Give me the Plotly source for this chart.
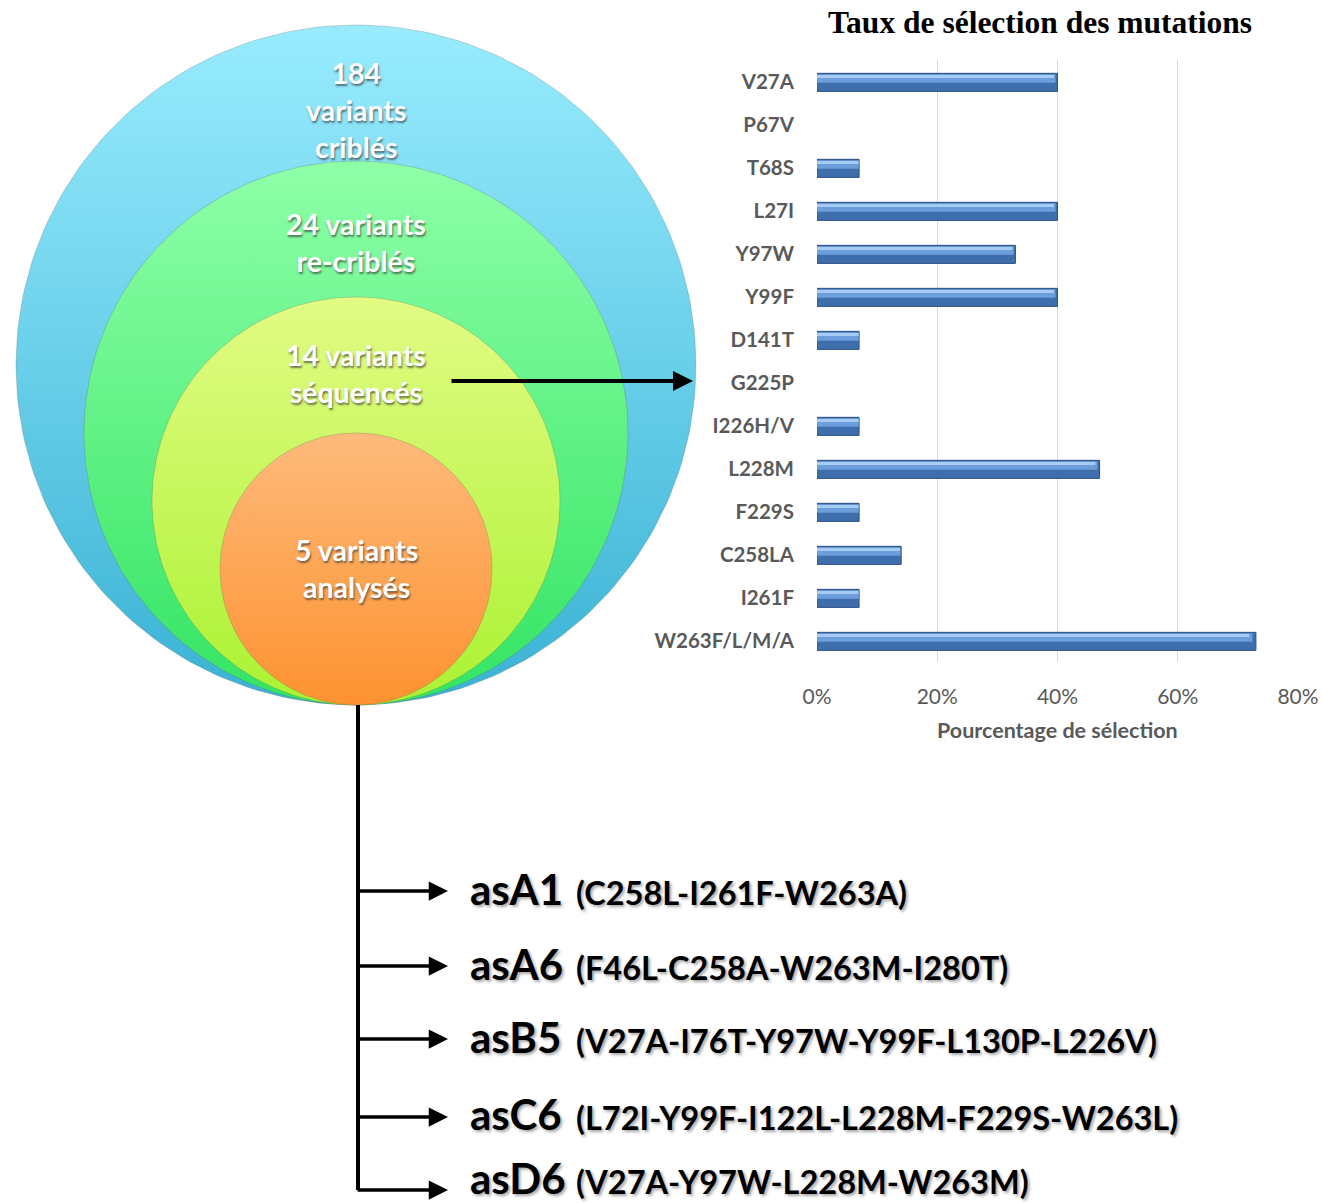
import numpy as np
import plotly.graph_objects as go

# ---------------- data ----------------
mutations = ["V27A", "P67V", "T68S", "L27I", "Y97W", "Y99F", "D141T", "G225P",
             "I226H/V", "L228M", "F229S", "C258LA", "I261F", "W263F/L/M/A"]
selection = [0.40, 0.0, 0.07, 0.40, 0.33, 0.40, 0.07, 0.0,
             0.07, 0.47, 0.07, 0.14, 0.07, 0.73]
x_ticks = [0, 0.2, 0.4, 0.6, 0.8]

stage_counts = [184, 24, 14, 5]
stage_labels = ["184<br>variants<br>criblés", "24 variants<br>re-criblés",
                "14 variants<br>séquencés", "5 variants<br>analysés"]

variant_names = ["asA1", "asA6", "asB5", "asC6", "asD6"]
variant_mutations = ["(C258L-I261F-W263A)", "(F46L-C258A-W263M-I280T)",
                     "(V27A-I76T-Y97W-Y99F-L130P-L226V)",
                     "(L72I-Y99F-I122L-L228M-F229S-W263L)",
                     "(V27A-Y97W-L228M-W263M)"]

# ---------------- layout constants ----------------
W, H = 1322, 1203
FONT = "Lato"
GREY = "#595959"


def Y(p):  # pixel (top-down) -> drawing axis (bottom-up)
    return H - p


fig = go.Figure()

# ---------------- bar chart (layered for a bevelled look) ----------------
bar_layers = [
    # (width, offset, colour, line colour, scale)
    (0.42, -0.19, "#3f6ead", "#2b5185", 1.0),
    (0.20, -0.17, "#6c9edb", None, 0.992),
    (0.07, -0.15, "#a6ccf5", None, 0.985),
]
for w_, off, col, lc, sc in bar_layers:
    fig.add_trace(go.Bar(
        y=mutations, x=[v * sc for v in selection], orientation="h",
        width=w_, offset=off,
        marker=dict(color=col,
                    line=dict(color=lc or col,
                              width=[1 if (lc and v > 0) else 0 for v in selection])),
        xaxis="x", yaxis="y", hoverinfo="skip", showlegend=False))

# ---------------- nested circles ----------------
tangent_x, tangent_y = 356, 705
unit_r = 68
circle_colors = [
    ("#98ecfe", "#3ab2d4"),
    ("#8effa8", "#33e463"),
    ("#e2fb84", "#aaf232"),
    ("#fdba7b", "#fe9230"),
]
t = np.linspace(0, 2 * np.pi, 240)
for i, cnt in enumerate(stage_counts):
    r = unit_r * (5 - i)
    cy = tangent_y - r
    xs = tangent_x + r * np.cos(t)
    ys = Y(cy + r * np.sin(t))
    top, bot = circle_colors[i]
    fig.add_trace(go.Scatter(
        x=xs, y=ys, mode="lines", fill="toself",
        line=dict(color="rgba(90,90,90,0.25)", width=1),
        fillgradient=dict(type="vertical", colorscale=[[0, bot], [1, top]]),
        xaxis="x2", yaxis="y2", hoverinfo="skip", showlegend=False))

label_centers = [109.5, 242.5, 373, 568.5]
annotations = []
for lab, cy in zip(stage_labels, label_centers):
    annotations.append(dict(
        x=tangent_x, y=Y(cy), xref="x2", yref="y2", text="<b>" + lab + "</b>",
        showarrow=False, xanchor="center", yanchor="middle",
        font=dict(family=FONT, size=28.5, color="white", weight="bold",
                  shadow="1px 2px 2px rgba(50,50,50,0.65)")))

# arrow from circle to chart
annotations.append(dict(
    x=693, y=Y(381), ax=450, ay=Y(381), xref="x2", yref="y2",
    axref="x2", ayref="y2", showarrow=True, arrowhead=2, arrowsize=1,
    arrowwidth=4, arrowcolor="black", text=""))

# ---------------- tree ----------------
branch_y = [891, 966, 1039, 1117, 1190]
text_y = [889, 964, 1037, 1114, 1178]
trunk_x = 358
shapes = [dict(type="line", xref="x2", yref="y2", x0=trunk_x, x1=trunk_x,
               y0=Y(705), y1=Y(branch_y[-1]), line=dict(color="black", width=4))]
for by, ty, nm, mut in zip(branch_y, text_y, variant_names, variant_mutations):
    annotations.append(dict(
        x=448, y=Y(by), ax=trunk_x - 2, ay=Y(by), xref="x2", yref="y2",
        axref="x2", ayref="y2", showarrow=True, arrowhead=2, arrowsize=1.1,
        arrowwidth=3.5, arrowcolor="black", text=""))
    annotations.append(dict(
        x=468, y=Y(ty), xref="x2", yref="y2", text="<b>" + nm + "</b>",
        showarrow=False, xanchor="left", yanchor="middle",
        font=dict(family=FONT, size=42, color="black", weight="bold",
                  shadow="2px 2px 3px rgba(0,0,0,0.35)")))
    annotations.append(dict(
        x=574, y=Y(ty + 3), xref="x2", yref="y2", text="<b>" + mut + "</b>",
        showarrow=False, xanchor="left", yanchor="middle",
        font=dict(family=FONT, size=32.5, color="black", weight="bold",
                  shadow="2px 2px 3px rgba(0,0,0,0.35)")))

# titles for bar chart
annotations.append(dict(
    x=1040, y=Y(22), xref="x2", yref="y2",
    text="<b>Taux de sélection des mutations</b>", showarrow=False,
    xanchor="center", yanchor="middle",
    font=dict(family="Liberation Serif", size=31.5, color="black")))
annotations.append(dict(
    x=1057, y=Y(730), xref="x2", yref="y2",
    text="<b>Pourcentage de sélection</b>", showarrow=False,
    xanchor="center", yanchor="middle",
    font=dict(family=FONT, size=21.5, color=GREY)))

fig.update_layout(
    width=W, height=H, autosize=False, margin=dict(l=0, r=0, t=0, b=0, pad=0),
    paper_bgcolor="white", plot_bgcolor="rgba(0,0,0,0)",
    barmode="overlay", showlegend=False,
    font=dict(family=FONT),
    xaxis=dict(domain=[817 / W, 1298 / W], range=[0, 0.8], tickvals=x_ticks,
               tickformat=".0%", showgrid=True, gridcolor="#d9d9d9", gridwidth=1,
               zeroline=False, showline=False, ticks="", automargin=False,
               tickfont=dict(family=FONT, size=21, color=GREY),
               ticklabelstandoff=20, anchor="y", fixedrange=True),
    yaxis=dict(domain=[1 - 662 / H, 1 - 60 / H], type="category",
               categoryorder="array", categoryarray=mutations,
               autorange="reversed", showgrid=False, zeroline=False,
               showline=False, ticks="", automargin=False,
               tickfont=dict(family=FONT, size=20.5, color=GREY, weight="bold"),
               ticklabelstandoff=22, anchor="x", fixedrange=True),
    xaxis2=dict(domain=[0, 1], range=[0, W], visible=False, anchor="y2",
                fixedrange=True, automargin=False),
    yaxis2=dict(domain=[0, 1], range=[0, H], visible=False, anchor="x2",
                fixedrange=True, automargin=False),
    shapes=shapes, annotations=annotations,
)

fig.write_html(
    "out.html",
    config={"responsive": False, "displayModeBar": False},
    post_script="document.body.style.margin='0';document.body.style.overflow='hidden';",
)
